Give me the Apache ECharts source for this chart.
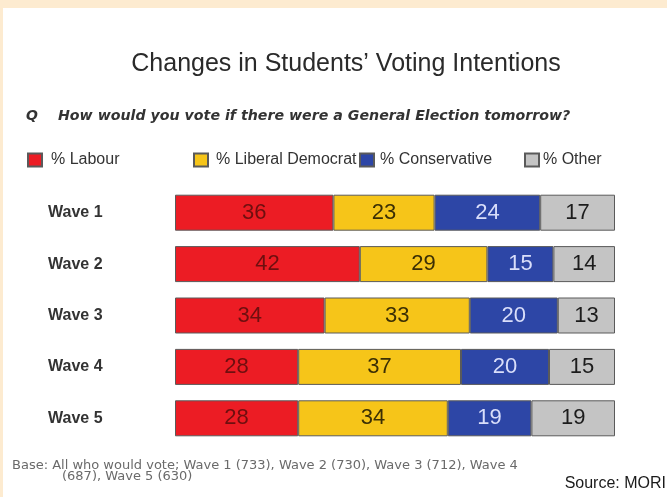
<!DOCTYPE html>
<html>
<head>
<meta charset="utf-8">
<style>
  html, body { margin: 0; padding: 0; background: #ffffff; }
  #chart { width: 667px; height: 497px; }
</style>
<script src="https://cdn.jsdelivr.net/npm/echarts@6/dist/echarts.min.js"></script>
</head>
<body>
<div id="chart"></div>
<script>
// Survey waves (rows, top to bottom)
const waves = ['Wave 1', 'Wave 2', 'Wave 3', 'Wave 4', 'Wave 5'];

// Share of vote intention per party, in percent
const labour = [36, 42, 34, 28, 28];
const libDem = [23, 29, 33, 37, 34];
const conservative = [24, 15, 20, 20, 19];
const other = [17, 14, 13, 15, 19];

const partyNames = ['% Labour', '% Liberal Democrat', '% Conservative', '% Other'];

const FONT = '"Liberation Sans", Arial, Helvetica, sans-serif';
const WIDE = '"DejaVu Sans", Verdana, sans-serif';

const partyStyles = [
  { fill: '#ec1c24', label: '#6e0f0f' },
  { fill: '#f6c519', label: '#3b2f05' },
  { fill: '#2d46a6', label: '#d9defa' },
  { fill: '#c4c4c4', label: '#1c1c1c' }
];

const partyValues = [labour, libDem, conservative, other];

const series = partyNames.map((name, i) => ({
  name: name,
  type: 'bar',
  stack: 'total',
  barWidth: 36,
  data: partyValues[i],
  itemStyle: {
    color: partyStyles[i].fill,
    borderColor: '#5a5a5a',
    borderWidth: 1
  },
  label: {
    show: true,
    position: 'inside',
    color: partyStyles[i].label,
    fontFamily: FONT,
    fontSize: 22,
    formatter: '{c}'
  },
  emphasis: { disabled: true }
}));

// One legend per entry so each sits at its own spot on the row
const legendLeft = [22, 188, 354, 519];
const legendTextPad = [4, 3, 1, -1];
const legends = partyNames.map((name, i) => ({
  data: [name],
  left: legendLeft[i],
  top: 147,
  icon: 'rect',
  itemWidth: 14,
  itemHeight: 13,
  selectedMode: false,
  textStyle: {
    fontFamily: FONT,
    fontSize: 16,
    color: '#333333',
    padding: [0, 0, 0, legendTextPad[i]]
  }
}));

const chart = echarts.init(document.getElementById('chart'), null, { renderer: 'canvas' });

chart.setOption({
  animation: false,
  backgroundColor: '#ffffff',
  title: {
    text: 'Changes in Students\u2019 Voting Intentions',
    left: 341,
    textAlign: 'center',
    top: 47,
    textStyle: {
      fontFamily: FONT,
      fontSize: 25,
      fontWeight: 'normal',
      color: '#2a2a2a'
    }
  },
  legend: legends,
  grid: {
    left: 175,
    right: 52,
    top: 187,
    bottom: 53,
    containLabel: false
  },
  xAxis: {
    type: 'value',
    min: 0,
    max: 100,
    show: false
  },
  yAxis: {
    type: 'category',
    data: waves,
    inverse: true,
    axisLine: { show: false },
    axisTick: { show: false },
    splitLine: { show: false },
    axisLabel: {
      align: 'left',
      margin: 127,
      fontFamily: FONT,
      fontSize: 16,
      fontWeight: 'bold',
      color: '#333333'
    }
  },
  series: series,
  graphic: [
    // peach frame along the top and left edges
    { type: 'rect', left: 0, top: 0, shape: { width: 667, height: 8 }, style: { fill: '#fdebd0' }, silent: true },
    { type: 'rect', left: 0, top: 0, shape: { width: 3, height: 497 }, style: { fill: '#fdebd0' }, silent: true },
    {
      type: 'text', left: 26, top: 109,
      style: { text: 'Q', fontFamily: WIDE, fontSize: 14, fontWeight: 'bold', fontStyle: 'italic', fill: '#333333' }
    },
    {
      type: 'text', left: 58, top: 109,
      style: {
        text: 'How would you vote if there were a General Election tomorrow?',
        fontFamily: WIDE, fontSize: 14.2, fontWeight: 'bold', fontStyle: 'italic', fill: '#333333'
      }
    },
    {
      type: 'text', left: 12, top: 459,
      style: {
        text: 'Base: All who would vote; Wave 1 (733), Wave 2 (730), Wave 3 (712), Wave 4',
        fontFamily: WIDE, fontSize: 13, fill: '#6a6a6a'
      }
    },
    {
      type: 'text', left: 62, top: 470,
      style: {
        text: '(687), Wave 5 (630)',
        fontFamily: WIDE, fontSize: 13, fill: '#6a6a6a'
      }
    },
    {
      type: 'text', right: 1, top: 476,
      style: {
        text: 'Source: MORI',
        fontFamily: FONT, fontSize: 16, fill: '#1a1a1a'
      }
    }
  ]
});
</script>
</body>
</html>
